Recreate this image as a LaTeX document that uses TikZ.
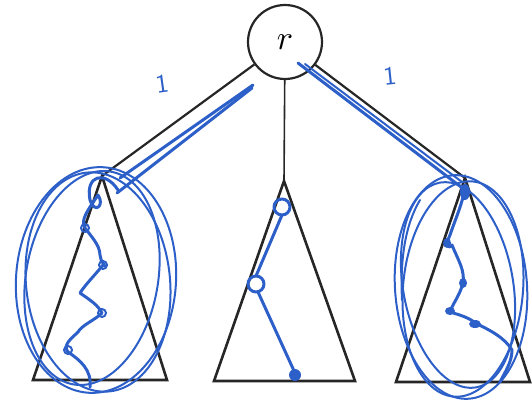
\documentclass[tikz,border=0pt]{standalone}
\usetikzlibrary{calc}
\definecolor{pen}{RGB}{45,95,200}
\begin{document}
\begin{tikzpicture}[x=1pt,y=-1pt,
  edge/.style={line width=2.2pt,black!85},
  tri/.style={line width=2.6pt,black!85,line join=miter},
  ink/.style={pen,line width=3pt,line cap=round,line join=round},
  thin ink/.style={pen,line width=2pt,line cap=round,line join=round}]
\useasboundingbox (0,0) rectangle (532,409);
% root
\node[circle,draw=black!85,line width=2.2pt,minimum size=74pt,inner sep=0pt] (r) at (285,42) {\scalebox{3.4}{$r$}};
% apex coordinates
\coordinate (la) at (102,176);
\coordinate (ma) at (284,181);
\coordinate (ra) at (465,178);
\draw[edge] (r) -- (la);
\draw[line width=1.6pt,black!85] (r) -- (ma);
\draw[edge] (r) -- (ra);
% triangles
\draw[tri] (la) -- (33,380) -- (167,380) -- cycle;
\draw[tri] (ma) -- (214,381) -- (355,381) -- cycle;
\draw[tri] (ra) -- (396,382) -- (530,382) -- cycle;
% labels
\node[pen] (l1) at (162,84) {\rotatebox{8}{\scalebox{2.6}{\sffamily 1}}};
\node[pen] (l2) at (390,76) {\rotatebox{6}{\scalebox{2.6}{\sffamily 1}}};
% blue strokes along left edge
\draw[ink] (253,85) -- (120,178);
\draw[ink] (252,88) -- (117,193);
% along right edge
\draw[ink] (298,63) -- (465,190);
\draw[thin ink] (305,64) -- (462,182);
% left ellipses
\draw[thin ink,rotate around={-4:(96,280)}] (96,280) ellipse (80 and 113);
\draw[thin ink,rotate around={6:(98,282)}] (98,282) ellipse (72 and 110);
\draw[thin ink,rotate around={-10:(92,278)}] (92,278) ellipse (66 and 108);
% left wavy path
\draw[ink] (118,190) .. controls (105,170) and (85,175) .. (90,200)
  .. controls (95,215) and (105,205) .. (98,195)
  .. controls (88,210) and (80,220) .. (85,228)
  .. controls (90,235) and (100,245) .. (100,255)
  .. controls (100,262) and (108,268) .. (103,265)
  .. controls (95,275) and (85,285) .. (80,293)
  .. controls (90,300) and (98,305) .. (102,313)
  .. controls (95,320) and (82,325) .. (78,332)
  .. controls (72,338) and (62,345) .. (68,352)
  .. controls (80,360) and (92,370) .. (90,387);
\draw[thin ink] (85,228) circle (4);
\draw[thin ink] (103,265) circle (4);
\draw[thin ink] (102,313) circle (4);
\draw[thin ink] (68,350) circle (4);
% right ellipses
\draw[thin ink,rotate around={4:(461,287)}] (461,287) ellipse (66 and 112);
\draw[thin ink,rotate around={-5:(463,289)}] (463,289) ellipse (60 and 108);
\draw[thin ink,rotate around={10:(458,285)}] (458,285) ellipse (55 and 104);
\draw[thin ink] (420,200) .. controls (405,225) and (400,260) .. (402,300);
% right wavy path
\draw[ink] (465,188) .. controls (462,205) and (455,220) .. (450,235)
  .. controls (445,245) and (448,250) .. (452,245)
  .. controls (458,260) and (465,270) .. (463,283)
  .. controls (460,295) and (452,305) .. (450,312)
  .. controls (460,315) and (470,318) .. (475,323)
  .. controls (490,330) and (505,338) .. (512,350)
  .. controls (512,362) and (505,372) .. (500,382);
\fill[pen] (465,192) ellipse (5 and 8);
\fill[pen] (447,243) ellipse (4 and 5);
\fill[pen] (463,283) ellipse (4 and 5);
\fill[pen] (450,311) ellipse (5 and 4);
\fill[pen] (475,324) ellipse (6 and 4);
% middle
\draw[ink] (282,207) circle (8);
\draw[ink] (256,284) circle (8);
\draw[ink] (282,215) -- (256,276);
\draw[ink] (258,292) -- (295,373);
\fill[pen] (295,375) ellipse (6 and 6);
\end{tikzpicture}
\end{document}
